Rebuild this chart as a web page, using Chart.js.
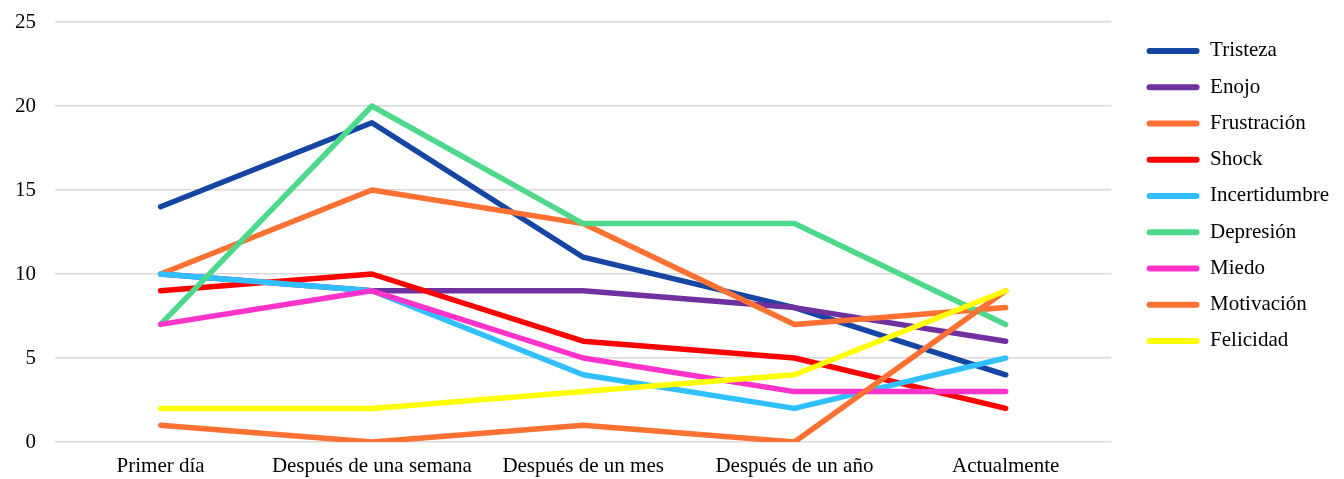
<!DOCTYPE html>
<html>
<head>
<meta charset="utf-8">
<script src="https://cdn.jsdelivr.net/npm/chart.js@4"></script>
<style>
  html, body { margin: 0; padding: 0; background: #fff; }
  #wrap { width: 1344px; height: 479px; }
</style>
</head>
<body>
<div id="wrap"><canvas id="chart"></canvas></div>
<script>
const categories = ["Primer día", "Después de una semana", "Después de un mes", "Después de un año", "Actualmente"];
const seriesNames = ["Tristeza", "Enojo", "Frustración", "Shock", "Incertidumbre", "Depresión", "Miedo", "Motivación", "Felicidad"];
const tristeza = [14, 19, 11, 8, 4];
const enojo = [10, 9, 9, 8, 6];
const frustracion = [10, 15, 13, 7, 8];
const shock = [9, 10, 6, 5, 2];
const incertidumbre = [10, 9, 4, 2, 5];
const depresion = [7, 20, 13, 13, 7];
const miedo = [7, 9, 5, 3, 3];
const motivacion = [1, 0, 1, 0, 9];
const felicidad = [2, 2, 3, 4, 9];
const seriesValues = [tristeza, enojo, frustracion, shock, incertidumbre, depresion, miedo, motivacion, felicidad];
const colors = ["#1646A3", "#7030A0", "#FF7133", "#FF0000", "#30C0FF", "#4ED88C", "#FF33CC", "#FF7133", "#FFFF00"];
const yTicks = { min: 0, max: 25, step: 5 };

const n = seriesNames.length;
const datasets = seriesNames.map((name, i) => ({
    label: name,
    data: seriesValues[i],
    borderColor: colors[i],
    backgroundColor: colors[i],
    borderWidth: 5.5,
    borderCapStyle: 'round',
    borderJoinStyle: 'round',
    pointRadius: 0,
    pointHoverRadius: 0,
    tension: 0,
    fill: false,
    order: n - i   // later series drawn on top, like the original
}));

const serif = "'Liberation Serif', 'Times New Roman', serif";
const legendGap = 20;

// leave a wider gap between the plot and the legend
const legendGapPlugin = {
    id: 'legendGap',
    beforeInit(chart) {
        const fit = chart.legend.fit;
        chart.legend.fit = function () {
            fit.bind(chart.legend)();
            this.width += legendGap;
        };
    },
    afterLayout(chart) {
        chart.legend.left += legendGap;
        chart.legend.right += legendGap;
    }
};

new Chart(document.getElementById('chart'), {
    type: 'line',
    data: { labels: categories, datasets: datasets },
    plugins: [legendGapPlugin],
    options: {
        responsive: true,
        maintainAspectRatio: false,
        animation: false,
        layout: { padding: { left: 0, right: 5, top: 22, bottom: 0 } },
        plugins: {
            tooltip: { enabled: false },
            legend: {
                position: 'right',
                align: 'start',
                title: { display: true, text: ' ', font: { size: 1 }, padding: { top: 0, bottom: 2 } },
                labels: {
                    font: { family: serif, size: 21 },
                    color: '#000',
                    boxWidth: 53,
                    boxHeight: 6,
                    padding: 15.25,
                    useBorderRadius: true,
                    borderRadius: 3,
                    generateLabels: (chart) => chart.data.datasets.map((ds, i) => ({
                        text: ds.label,
                        fillStyle: ds.borderColor,
                        strokeStyle: ds.borderColor,
                        fontColor: '#000',
                        lineWidth: 0,
                        hidden: false,
                        datasetIndex: i,
                        borderRadius: 3
                    }))
                }
            }
        },
        scales: {
            x: {
                offset: true,
                afterFit(scale) { scale.height = 37; },
                grid: { display: false, drawTicks: false },
                border: { display: false },
                ticks: { font: { family: serif, size: 21 }, color: '#000', maxRotation: 0, padding: 12 }
            },
            y: {
                min: yTicks.min,
                max: yTicks.max,
                afterFit(scale) {
                    scale.width = 55;
                    scale.paddingTop = 0;
                    scale.paddingBottom = 0;
                },
                ticks: { stepSize: yTicks.step, font: { family: serif, size: 21 }, color: '#000', padding: 19 },
                grid: { color: '#d9d9d9', lineWidth: 1.5, drawTicks: false },
                border: { display: false }
            }
        }
    }
});
</script>
</body>
</html>
